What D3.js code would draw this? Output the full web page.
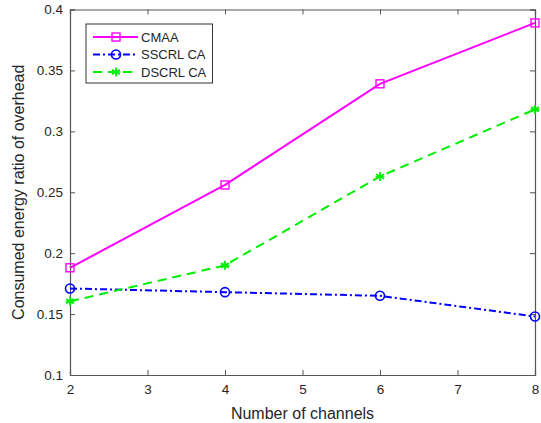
<!DOCTYPE html>
<html><head><meta charset="utf-8">
<script src="https://cdn.jsdelivr.net/npm/d3@7"></script>
<style>body{margin:0;background:#fff}svg{display:block}text{font-family:"Liberation Sans",Arial,sans-serif}</style>
</head><body><svg id="c" width="541" height="423"></svg>
<script>
const channels = [2, 4, 6, 8];
const cmaa = [0.188, 0.256, 0.339, 0.389];
const sscrl = [0.171, 0.168, 0.165, 0.148];
const dscrl = [0.1605, 0.190, 0.263, 0.318];
const xTicks = [2, 3, 4, 5, 6, 7, 8];
const yTicks = [0.1, 0.15, 0.2, 0.25, 0.3, 0.35, 0.4];
const yTickLabels = ["0.1", "0.15", "0.2", "0.25", "0.3", "0.35", "0.4"];
const seriesNames = ["CMAA", "SSCRL CA", "DSCRL CA"];

const svg = d3.select("#c");
const L = 70, R = 535, T = 9.5, B = 375;
const x = d3.scaleLinear().domain([2, 8]).range([L, R]);
const y = d3.scaleLinear().domain([0.1, 0.4]).range([B, T]);
const axCol = "#555";

svg.append("rect").attr("x", L).attr("y", T).attr("width", R - L).attr("height", B - T)
  .attr("fill", "#fff");

const fmtY = d => yTickLabels[yTicks.indexOf(d)];
const gx = svg.append("g").attr("transform", `translate(0,${B})`)
  .call(d3.axisBottom(x).tickValues(xTicks).tickSize(-5).tickPadding(9).tickFormat(d3.format("d")));
const gxt = svg.append("g").attr("transform", `translate(0,${T})`)
  .call(d3.axisTop(x).tickValues(xTicks).tickSize(-5).tickFormat(""));
const gy = svg.append("g").attr("transform", `translate(${L},0)`)
  .call(d3.axisLeft(y).tickValues(yTicks).tickSize(-5).tickPadding(7).tickFormat(fmtY));
const gyr = svg.append("g").attr("transform", `translate(${R},0)`)
  .call(d3.axisRight(y).tickValues(yTicks).tickSize(-5).tickFormat(""));
[gx, gxt, gy, gyr].forEach(g => {
  g.select(".domain").attr("stroke", axCol).attr("stroke-width", 1.2);
  g.selectAll(".tick line").attr("stroke", axCol);
  g.selectAll("text").attr("fill", "#262626").style("font-size", "13.5px");
});

const series = [
  {name: seriesNames[0], vals: cmaa, color: "#ff00ff", dash: null, marker: "square"},
  {name: seriesNames[1], vals: sscrl, color: "#0000ff", dash: "7,3,2,3", marker: "circle"},
  {name: seriesNames[2], vals: dscrl, color: "#00ee00", dash: "9,6", marker: "star"}
];
const line = d3.line().x(d => x(d[0])).y(d => y(d[1]));

function drawMarker(g, type, cx, cy, color) {
  if (type === "square") {
    g.append("rect").attr("x", cx - 4).attr("y", cy - 4).attr("width", 8).attr("height", 8)
      .attr("fill", "none").attr("stroke", color).attr("stroke-width", 1.4);
  } else if (type === "circle") {
    g.append("circle").attr("cx", cx).attr("cy", cy).attr("r", 4.5)
      .attr("fill", "none").attr("stroke", color).attr("stroke-width", 1.6);
  } else {
    const r = 4.5;
    [0, 60, 120].forEach(a => {
      const rad = a * Math.PI / 180;
      g.append("line").attr("x1", cx - r * Math.sin(rad)).attr("y1", cy - r * Math.cos(rad))
        .attr("x2", cx + r * Math.sin(rad)).attr("y2", cy + r * Math.cos(rad))
        .attr("stroke", color).attr("stroke-width", 1.8);
    });
    g.append("line").attr("x1", cx - r).attr("y1", cy).attr("x2", cx + r).attr("y2", cy)
      .attr("stroke", color).attr("stroke-width", 1.2);
  }
}

const gs = svg.append("g");
series.forEach(s => {
  const pts = channels.map((c, i) => [c, s.vals[i]]);
  gs.append("path").attr("d", line(pts)).attr("fill", "none").attr("stroke", s.color)
    .attr("stroke-width", 2).attr("stroke-dasharray", s.dash);
  pts.forEach(p => drawMarker(gs, s.marker, x(p[0]), y(p[1]), s.color));
});

const lg = svg.append("g");
lg.append("rect").attr("x", 86).attr("y", 24).attr("width", 126.5).attr("height", 59)
  .attr("fill", "#fff").attr("stroke", "#333").attr("stroke-width", 1);
series.forEach((s, i) => {
  const yy = 37 + i * 17.5;
  lg.append("line").attr("x1", 93).attr("x2", 138).attr("y1", yy).attr("y2", yy)
    .attr("stroke", s.color).attr("stroke-width", 2).attr("stroke-dasharray", s.dash);
  drawMarker(lg, s.marker, 116, yy, s.color);
  lg.append("text").attr("x", 141).attr("y", yy).attr("dy", "0.35em")
    .style("font-size", "13px").attr("fill", "#262626").text(s.name);
});

svg.append("text").attr("x", (L + R) / 2).attr("y", 413).attr("dy", "0.35em")
  .attr("text-anchor", "middle").style("font-size", "16px").attr("fill", "#262626")
  .text("Number of channels");
svg.append("text").attr("transform", `translate(18,${(T + B) / 2}) rotate(-90)`)
  .attr("dy", "0.35em").attr("text-anchor", "middle").style("font-size", "16px")
  .attr("fill", "#262626").text("Consumed energy ratio of overhead");
</script></body></html>
